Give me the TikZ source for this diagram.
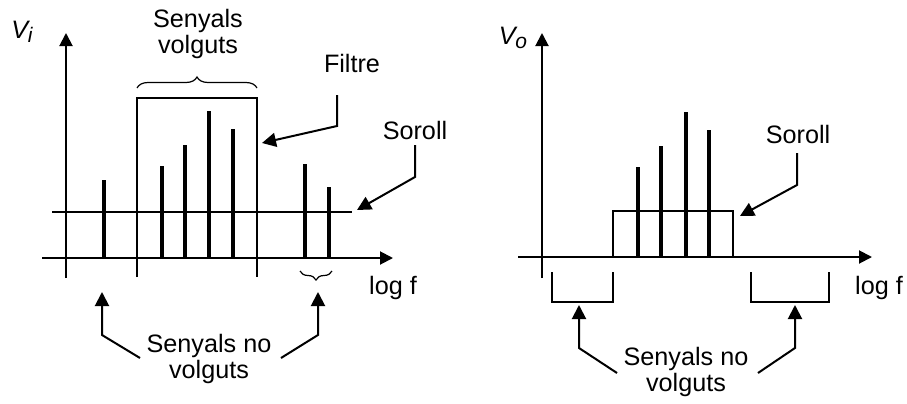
\documentclass[tikz,border=0pt]{standalone}
\usepackage{fontspec}
\setmainfont{Liberation Sans}
\usetikzlibrary{arrows.meta,decorations.pathreplacing}
\newcommand{\lowsub}[1]{\kern-1.2pt\raisebox{-2pt}{\fontsize{10.5}{10.5}\selectfont\itshape #1}}

\begin{document}
\begin{tikzpicture}[x=0.5pt,y=-0.5pt,
  every node/.style={font=\fontsize{12.6}{11.7}\selectfont,align=center,inner sep=0pt},
  axis/.style={line width=1pt,-{Triangle[length=6.5pt,width=6.5pt]}},
  pointer/.style={line width=1pt,-{Triangle[length=7pt,width=7pt]}},
  spike/.style={line width=1.7pt},
  frame/.style={line width=0.9pt},
  curly/.style={decorate,decoration={brace,amplitude=#1},line width=0.6pt}]
\useasboundingbox (0,0) rectangle (907,403);

\node (vi) at (22,32) {\textit{V}\lowsub{i}};
\node (volguts) at (198,34) {Senyals\\volguts};
\node (filtre) at (352,63) {Filtre};
\node (sorollin) at (415,130) {Soroll};
\node (logfin) at (393,288) {log f};
\node (novolgin) at (209,359) {Senyals no\\volguts};

\draw[axis] (66,278) -- (66,33);
\draw[axis] (42,258) -- (393,258);
\draw[frame] (52,212) -- (352,212);
\draw[frame] (137,277) -- (137,98) -- (257,98) -- (257,277);
\draw[spike] (104,258) -- (104,180);
\draw[spike] (162,258) -- (162,166);
\draw[spike] (185,258) -- (185,145);
\draw[spike] (209,258) -- (209,111);
\draw[spike] (233,258) -- (233,129);
\draw[spike] (305,258) -- (305,164);
\draw[spike] (329,258) -- (329,187);
\draw[curly=5.5pt] (137,88) -- (257,88);
\draw[curly=4.5pt] (332,271) -- (300,271);

\coordinate (filtretop) at (337,95);
\coordinate (filtrebend) at (337,126);
\coordinate (filtretip) at (262,143);
\draw[pointer] (filtretop) -- (filtrebend) -- (filtretip);
\coordinate (sorollintop) at (415,145);
\coordinate (sorollinbend) at (415,177);
\coordinate (sorollintip) at (357,210);
\draw[pointer] (sorollintop) -- (sorollinbend) -- (sorollintip);
\coordinate (nvlfoot) at (140,358);
\coordinate (nvlbend) at (102,335);
\coordinate (nvltip) at (102,292);
\draw[pointer] (nvlfoot) -- (nvlbend) -- (nvltip);
\coordinate (nvrfoot) at (281,358);
\coordinate (nvrbend) at (318,335);
\coordinate (nvrtip) at (318,292);
\draw[pointer] (nvrfoot) -- (nvrbend) -- (nvrtip);

\node (vo) at (513,38) {\textit{V}\lowsub{o}};
\node (sorollout) at (798,134) {Soroll};
\node (logfout) at (879,288) {log f};
\node (novolgout) at (686,372) {Senyals no\\volguts};

\draw[axis] (542,278) -- (542,33);
\draw[axis] (518,257) -- (872,257);
\draw[line width=0.8pt] (613,257) -- (613,211) -- (733,211) -- (733,257);
\draw[spike] (638,257) -- (638,167);
\draw[spike] (661,257) -- (661,146);
\draw[spike] (686,257) -- (686,112);
\draw[spike] (709,257) -- (709,130);
\draw[frame] (552,272) -- (552,302) -- (613,302) -- (613,272);
\draw[frame] (751,272) -- (751,302) -- (829,302) -- (829,272);

\coordinate (sorollouttop) at (797,153);
\coordinate (sorolloutbend) at (797,185);
\coordinate (sorollouttip) at (740,216);
\draw[pointer] (sorollouttop) -- (sorolloutbend) -- (sorollouttip);
\coordinate (nvolfoot) at (617,373);
\coordinate (nvolbend) at (579,348);
\coordinate (nvoltip) at (579,305);
\draw[pointer] (nvolfoot) -- (nvolbend) -- (nvoltip);
\coordinate (nvorfoot) at (758,373);
\coordinate (nvorbend) at (795,348);
\coordinate (nvortip) at (795,305);
\draw[pointer] (nvorfoot) -- (nvorbend) -- (nvortip);
\end{tikzpicture}
\end{document}
